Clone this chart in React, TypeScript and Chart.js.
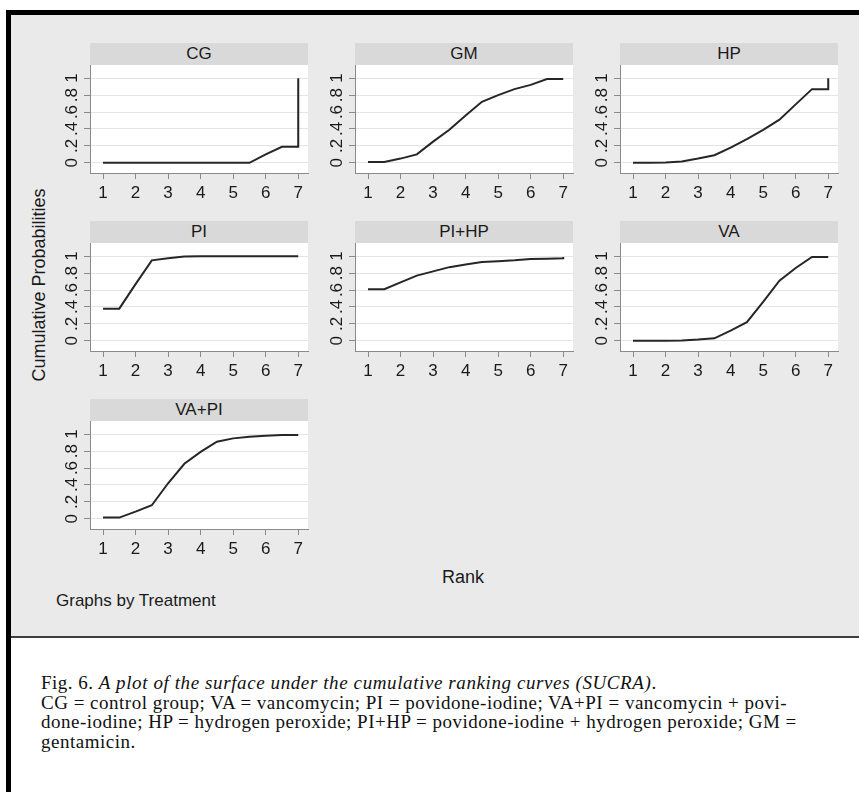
import React, { useEffect, useRef } from "react";
import { Chart, registerables } from "chart.js";

Chart.register(...registerables);

// ---- data ----
const ranks = [1, 1.5, 2, 2.5, 3, 3.5, 4, 4.5, 5, 5.5, 6, 6.5, 7, 7];
const xTickValues = [1, 2, 3, 4, 5, 6, 7];
const yTickValues = [0, 0.2, 0.4, 0.6, 0.8, 1];
const treatments = ["CG", "GM", "HP", "PI", "PI+HP", "VA", "VA+PI"];

const cgValues = [0, 0, 0, 0, 0, 0, 0, 0, 0, 0, 0.1, 0.19, 0.19, 1];
const gmValues = [0.01, 0.01, 0.05, 0.1, 0.25, 0.39, 0.56, 0.72, 0.8, 0.87, 0.92, 0.99, 0.99, 0.99];
const hpValues = [0, 0, 0.005, 0.015, 0.05, 0.09, 0.18, 0.28, 0.39, 0.51, 0.69, 0.87, 0.87, 1];
const piValues = [0.38, 0.38, 0.67, 0.95, 0.975, 0.995, 1, 1, 1, 1, 1, 1, 1, 1];
const piHpValues = [0.61, 0.61, 0.69, 0.77, 0.82, 0.87, 0.9, 0.93, 0.94, 0.95, 0.965, 0.97, 0.975, 0.99];
const vaValues = [0, 0, 0, 0.005, 0.015, 0.03, 0.12, 0.22, 0.46, 0.71, 0.86, 0.99, 0.99, 0.99];
const vaPiValues = [0.015, 0.015, 0.085, 0.16, 0.42, 0.65, 0.79, 0.91, 0.95, 0.97, 0.98, 0.99, 0.99, 0.99];

const seriesValues = [cgValues, gmValues, hpValues, piValues, piHpValues, vaValues, vaPiValues];

// ---- layout ----
const PLOT_W = 218;
const PLOT_H = 108;
const STRIP_H = 22;
const AXIS_W = 40;
const XAXIS_H = 34;
const RIGHT_PAD = 4;
const colLefts = [90, 355, 620];
const rowTops = [43, 221, 399];

const SANS = "'Liberation Sans', Arial, Helvetica, sans-serif";
const SERIF = "'Liberation Serif', 'Times New Roman', serif";

const plotBg = {
  id: "plotBg",
  beforeDraw(chart: any) {
    const { ctx, chartArea } = chart;
    ctx.save();
    ctx.fillStyle = "#ffffff";
    ctx.fillRect(chartArea.left, chartArea.top, chartArea.right - chartArea.left, chartArea.bottom - chartArea.top);
    ctx.restore();
  },
};

function Panel({ title, values, left, top }: { title: string; values: number[]; left: number; top: number }) {
  const ref = useRef<HTMLCanvasElement | null>(null);
  useEffect(() => {
    if (!ref.current) return;
    const chart = new Chart(ref.current, {
      type: "line",
      data: {
        datasets: [
          {
            data: ranks.map((r, i) => ({ x: r, y: values[i] })),
            borderColor: "#262626",
            borderWidth: 2,
            pointRadius: 0,
            tension: 0,
            fill: false,
          },
        ],
      },
      options: {
        responsive: false,
        animation: false,
        devicePixelRatio: 1,
        layout: { padding: { left: 0, top: 0, right: RIGHT_PAD, bottom: 0 } },
        plugins: { legend: { display: false }, tooltip: { enabled: false } },
        scales: {
          x: {
            type: "linear",
            min: 0.6,
            max: 7.3,
            afterBuildTicks: (s: any) => {
              s.ticks = xTickValues.map((v) => ({ value: v }));
            },
            afterFit: (s: any) => {
              s.height = XAXIS_H;
              s.paddingLeft = 0;
              s.paddingRight = 0;
            },
            grid: { drawOnChartArea: false, drawTicks: true, tickLength: 6, tickColor: "#8a8a8a" },
            border: { display: true, color: "#8a8a8a", width: 1 },
            ticks: {
              color: "#1a1a1a",
              font: { family: SANS, size: 17 },
              padding: 4,
              maxRotation: 0,
              minRotation: 0,
              callback: (v: any) => String(v),
            },
          },
          y: {
            type: "linear",
            min: -0.12,
            max: 1.155,
            afterBuildTicks: (s: any) => {
              s.ticks = yTickValues.map((v) => ({ value: v }));
            },
            afterFit: (s: any) => {
              s.width = AXIS_W;
              s.paddingTop = 0;
              s.paddingBottom = 0;
            },
            grid: { color: "#e4e4e4", lineWidth: 1, drawTicks: true, tickLength: 6, tickColor: "#8a8a8a" },
            border: { display: true, color: "#8a8a8a", width: 1 },
            ticks: {
              color: "#1a1a1a",
              font: { family: SANS, size: 17 },
              padding: 5,
              minRotation: 90,
              maxRotation: 90,
              crossAlign: "center",
              callback: (v: any) => {
                const n = Number(v);
                if (n === 0) return "0";
                if (n === 1) return "1";
                return "." + Math.round(n * 10);
              },
            },
          },
        },
      },
      plugins: [plotBg],
    } as any);
    return () => chart.destroy();
  }, [values]);

  return (
    <>
      <div
        style={{
          position: "absolute",
          left,
          top,
          width: PLOT_W,
          height: STRIP_H,
          background: "#d9d9d9",
          color: "#1a1a1a",
          font: `17px ${SANS}`,
          lineHeight: STRIP_H + "px",
          textAlign: "center",
        }}
      >
        {title}
      </div>
      <canvas
        ref={ref}
        width={PLOT_W + AXIS_W + RIGHT_PAD}
        height={PLOT_H + XAXIS_H}
        style={{ position: "absolute", left: left - AXIS_W, top: top + STRIP_H }}
      />
    </>
  );
}

export default function App() {
  return (
    <div style={{ position: "absolute", left: 0, top: 0, width: 859, height: 792, overflow: "hidden", background: "#fff" }}>
      {/* frame */}
      <div style={{ position: "absolute", left: 11, top: 15, width: 848, height: 621, background: "#eaeaea" }} />
      <div style={{ position: "absolute", left: 6, top: 10, width: 853, height: 5, background: "#000" }} />
      <div style={{ position: "absolute", left: 6, top: 10, width: 5, height: 782, background: "#000" }} />
      <div style={{ position: "absolute", left: 11, top: 636, width: 848, height: 2, background: "#3e3e3e" }} />

      {treatments.map((t, i) => (
        <Panel key={t} title={t} values={seriesValues[i]} left={colLefts[i % 3]} top={rowTops[Math.floor(i / 3)]} />
      ))}

      {/* axis titles */}
      <div
        style={{
          position: "absolute",
          left: 39,
          top: 285,
          transform: "translate(-50%, -50%) rotate(-90deg)",
          font: `18px ${SANS}`,
          color: "#1a1a1a",
          whiteSpace: "nowrap",
        }}
      >
        Cumulative Probabilities
      </div>
      <div
        style={{
          position: "absolute",
          left: 463,
          top: 577,
          transform: "translate(-50%, -50%)",
          font: `18px ${SANS}`,
          color: "#1a1a1a",
          whiteSpace: "nowrap",
        }}
      >
        Rank
      </div>
      <div
        style={{
          position: "absolute",
          left: 56,
          top: 601,
          transform: "translate(0, -50%)",
          font: `17px ${SANS}`,
          color: "#1a1a1a",
          whiteSpace: "nowrap",
        }}
      >
        Graphs by Treatment
      </div>

      {/* caption */}
      <div
        style={{
          position: "absolute",
          left: 41,
          top: 673,
          font: `19px ${SERIF}`,
          color: "#111",
          whiteSpace: "nowrap",
          lineHeight: "19.5px",
          letterSpacing: "0.5px",
        }}
      >
        <div>
          Fig. 6. <i style={{ letterSpacing: "0.6px" }}>A plot of the surface under the cumulative ranking curves (SUCRA)</i>.
        </div>
        <div>CG = control group; VA = vancomycin; PI = povidone-iodine; VA+PI = vancomycin + povi-</div>
        <div>done-iodine; HP = hydrogen peroxide; PI+HP = povidone-iodine + hydrogen peroxide; GM =</div>
        <div>gentamicin.</div>
      </div>
    </div>
  );
}
